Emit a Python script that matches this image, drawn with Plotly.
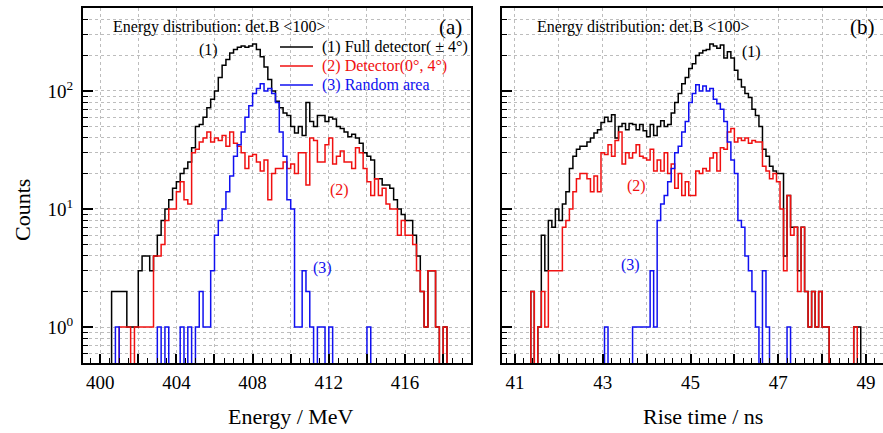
import numpy as np
import plotly.graph_objects as go

# ---------------- data (counts per bin) ----------------
# Panel (a): energy, bins of 0.2 MeV starting at 400.6 MeV
E_START, E_WIDTH = 400.6, 0.2
E_FULL = [2, 2, 2, 2, 1, 1, 1, 3, 4, 4,
          3, 4, 6, 8, 10, 12, 15, 17, 20, 22,
          25, 33, 50, 52, 60, 72, 85, 100, 130, 165,
          185, 210, 225, 235, 240, 235, 240, 250, 225, 195,
          160, 125, 100, 82, 72, 65, 62, 50, 44, 50,
          42, 80, 55, 50, 62, 62, 55, 60, 58, 50,
          48, 45, 41, 43, 40, 36, 30, 28, 26, 18,
          18, 16, 16, 15, 12, 10, 9, 8, 8, 6,
          4, 2, 1, 3, 3, 1, 0, 1]
E_DET = [0, 0, 1, 1, 1, 0, 1, 1, 1, 1,
         1, 4, 4, 5, 8, 10, 10, 14, 17, 12,
         11, 30, 32, 37, 40, 45, 37, 40, 38, 42,
         34, 45, 36, 34, 30, 22, 28, 29, 25, 21,
         26, 12, 20, 22, 22, 25, 22, 24, 20, 30,
         30, 16, 40, 38, 25, 25, 35, 40, 24, 28,
         31, 25, 25, 22, 33, 30, 22, 17, 13, 18,
         13, 15, 11, 10, 10, 6, 8, 6, 6, 5,
         3, 2, 1, 3, 3, 1, 0, 1]
E_RAND = [0, 1, 0, 0, 0, 0, 0, 0, 0, 0,
          0, 0, 1, 0, 1, 0, 0, 0, 1, 0,
          1, 0, 1, 2, 1, 1, 3, 6, 8, 10,
          14, 19, 28, 35, 45, 60, 75, 95, 105, 115,
          100, 105, 95, 80, 45, 28, 12, 10, 1, 1,
          3, 2, 1, 0, 1, 1, 0, 1, 0, 0,
          0, 0, 0, 0, 0, 0, 0, 1, 0, 0,
          0, 0, 0, 0, 0, 0, 0, 0, 0, 0,
          0, 0, 0, 0, 0, 0, 0, 0]

# Panel (b): rise time, bins of 0.08 ns starting at 41.36 ns
T_START, T_WIDTH = 41.36, 0.08
T_FULL = [2, 0, 1, 6, 3, 8, 7, 10, 8, 11,
          14, 22, 28, 32, 34, 34, 37, 40, 44, 47,
          54, 60, 55, 63, 40, 50, 53, 47, 53, 52,
          47, 52, 46, 41, 52, 42, 50, 56, 50, 52,
          65, 80, 95, 115, 130, 155, 170, 200, 210, 220,
          225, 250, 240, 230, 245, 190, 215, 190, 150, 125,
          108, 95, 88, 70, 62, 50, 32, 28, 23, 21,
          20, 20, 4, 13, 7, 7, 3, 7, 2, 1,
          2, 1, 2, 1, 1, 0, 0, 0, 0, 0,
          0, 0, 1, 1, 0, 0, 0]
T_DET = [2, 0, 1, 2, 1, 3, 3, 3, 3, 7,
         8, 10, 14, 18, 20, 20, 18, 14, 19, 14,
         30, 29, 35, 28, 38, 45, 24, 30, 27, 30,
         35, 28, 27, 26, 32, 21, 26, 21, 30, 20,
         24, 15, 20, 13, 17, 13, 13, 21, 20, 22,
         21, 27, 30, 21, 33, 32, 45, 48, 37, 40,
         38, 40, 36, 38, 37, 37, 23, 21, 18, 20,
         17, 10, 3, 13, 6, 7, 2, 7, 2, 1,
         2, 1, 2, 1, 1, 0, 0, 0, 0, 0,
         0, 0, 1, 0, 0, 0, 0]
T_RAND = [0, 0, 0, 0, 0, 0, 0, 0, 0, 0,
          0, 0, 0, 0, 0, 0, 0, 0, 0, 0,
          0, 1, 0, 0, 0, 0, 0, 0, 0, 1,
          1, 1, 1, 1, 3, 1, 8, 11, 13, 17,
          22, 30, 34, 45, 55, 80, 95, 113, 100, 110,
          100, 105, 85, 78, 70, 55, 37, 26, 20, 8,
          7, 4, 3, 2, 1, 0, 3, 1, 0, 0,
          0, 0, 0, 1, 0, 0, 0, 0, 0, 0,
          0, 0, 0, 0, 0, 0, 0, 0, 0, 0,
          0, 0, 0, 0, 0, 0, 0]

LABELS = ["(1) Full detector( \u00b1 4\u00b0)", "(2) Detector(0\u00b0, 4\u00b0)", "(3) Random area"]
COLORS = ["#000000", "#f01010", "#1010f0"]
E_SERIES = [E_FULL, E_DET, E_RAND]
T_SERIES = [T_FULL, T_DET, T_RAND]

E_TICKS = list(range(400, 420, 2))
E_TICKTEXT = [str(v) if (v - 400) % 4 == 0 else " " for v in E_TICKS]
T_TICKS = list(range(41, 50))
T_TICKTEXT = [str(v) if (v - 41) % 2 == 0 else " " for v in T_TICKS]

FONT = "Liberation Serif"
W, H = 883, 433
E_RANGE = [399.1, 419.46]
T_RANGE = [40.704, 49.387]


def outline(start, width, counts, floor=0.05):
    """Histogram outline (ROOT style): empty bins drop below the axis."""
    c = np.asarray(counts, float)
    edges = start + width * np.arange(len(c) + 1)
    xs = np.concatenate([[edges[0]], edges])
    ys = np.concatenate([[floor], np.where(c > 0, c, floor), [floor]])
    return xs, ys


fig = go.Figure()
for name, color, ca, cb in zip(LABELS, COLORS, E_SERIES, T_SERIES):
    xa, ya = outline(E_START, E_WIDTH, ca)
    fig.add_trace(go.Scatter(
        x=xa, y=ya, mode="lines", xaxis="x", yaxis="y",
        line=dict(color=color, width=1.5, shape="hv"),
        name=name, hoverinfo="skip", showlegend=False))
    xb, yb = outline(T_START, T_WIDTH, cb)
    fig.add_trace(go.Scatter(
        x=xb, y=yb, mode="lines", xaxis="x2", yaxis="y2",
        line=dict(color=color, width=1.5, shape="hv"),
        name=name, hoverinfo="skip", showlegend=False))

GRIDC = "#bdbdbd"
GRID = dict(showgrid=True, gridcolor=GRIDC, griddash="dot", gridwidth=1)
YMINOR = [0.5, 0.6, 0.7, 0.8, 0.9] + list(range(2, 10)) + list(range(20, 100, 10)) + [200, 300, 400, 500]
Y_TOP = 1 - 8 / H
Y_BOT = 1 - 363 / H
Y_RANGE = [-0.305, 2.703]
TICKFONT = dict(family=FONT, size=19, color="black")
TICK = dict(ticks="inside", tickwidth=1.5, tickcolor="black")

xcommon = dict(ticklen=9, showline=True, linewidth=2, linecolor="black", mirror=True,
               zeroline=False, tickfont=TICKFONT, ticklabelstandoff=1, **TICK, **GRID)
ycommon = dict(type="log", range=Y_RANGE, domain=[Y_BOT, Y_TOP],
               tickvals=[1, 10, 100],
               ticktext=["10<sup>0</sup>", "10<sup>1</sup>", "10<sup>2</sup>"],
               ticklen=10, showline=True, linewidth=2, linecolor="black", zeroline=False,
               tickfont=TICKFONT, ticklabelstandoff=4,
               minor=dict(tickvals=YMINOR, ticks="inside", ticklen=5, tickwidth=1.2,
                          tickcolor="black", showgrid=True, gridcolor=GRIDC,
                          griddash="dot", gridwidth=1),
               **TICK, **GRID)

fig.update_layout(
    width=W, height=H, margin=dict(l=0, r=0, t=0, b=0),
    paper_bgcolor="white", plot_bgcolor="white",
    font=dict(family=FONT, color="black"),
    showlegend=False,
    xaxis=dict(domain=[83 / W, 471 / W], range=E_RANGE, anchor="y",
               tickvals=E_TICKS, ticktext=E_TICKTEXT,
               minor=dict(dtick=0.5, tick0=400, ticks="inside", ticklen=5,
                          tickwidth=1.2, tickcolor="black", showgrid=False),
               **xcommon),
    yaxis=dict(anchor="x", mirror=True, **ycommon),
    xaxis2=dict(domain=[502 / W, 1.0], range=T_RANGE, anchor="y2",
                tickvals=T_TICKS, ticktext=T_TICKTEXT,
                minor=dict(dtick=0.2, tick0=41, ticks="inside", ticklen=5,
                           tickwidth=1.2, tickcolor="black", showgrid=False),
                **xcommon),
    yaxis2=dict(anchor="x2", mirror=False, showticklabels=False, **ycommon),
)

ann = []
shapes = []


def note(text, x, y, size, color="black", xref="paper", yref="paper", xa="left", ya="middle", angle=0):
    ann.append(dict(text=text, x=x, y=y, xref=xref, yref=yref, xanchor=xa, yanchor=ya,
                    showarrow=False, textangle=angle,
                    font=dict(family=FONT, size=size, color=color)))


# legend (drawn by hand, ROOT style)
for i, (lab, col) in enumerate(zip(LABELS, COLORS)):
    yrow = 1 - (47 + 19 * i) / H
    shapes.append(dict(type="line", xref="paper", yref="paper",
                       x0=280 / W, x1=313 / W, y0=yrow, y1=yrow,
                       line=dict(color=col, width=1.5)))
    note(lab, 320 / W, yrow, 16, color=col)

note("Energy distribution: det.B &lt;100&gt;", 111 / W, 1 - 27 / H, 16)
note("Energy distribution: det.B &lt;100&gt;", 535 / W, 1 - 27 / H, 16)
note("(a)", 464 / W, 1 - 27 / H, 21, xa="right")
note("(b)", 877 / W, 1 - 27 / H, 21, xa="right")
note("Energy / MeV", 291 / W, 1 - 416 / H, 22, xa="center")
note("Rise time / ns", 703 / W, 1 - 416 / H, 22, xa="center")
note("Counts", 22 / W, 1 - 210 / H, 22, xa="center", angle=-90)
# curve labels (data coordinates; log axes use log10 for y)
note("(1)", 405.7, 2.35, 16, xref="x", yref="y", xa="center")
note("(2)", 412.55, 1.16, 16, color=COLORS[1], xref="x", yref="y", xa="center")
note("(3)", 411.65, 0.50, 16, color=COLORS[2], xref="x", yref="y", xa="center")
note("(1)", 46.4, 2.33, 16, xref="x2", yref="y2", xa="center")
note("(2)", 43.76, 1.195, 16, color=COLORS[1], xref="x2", yref="y2", xa="center")
note("(3)", 43.64, 0.525, 16, color=COLORS[2], xref="x2", yref="y2", xa="center")
fig.update_layout(annotations=ann, shapes=shapes)

fig.write_html("out.html")
